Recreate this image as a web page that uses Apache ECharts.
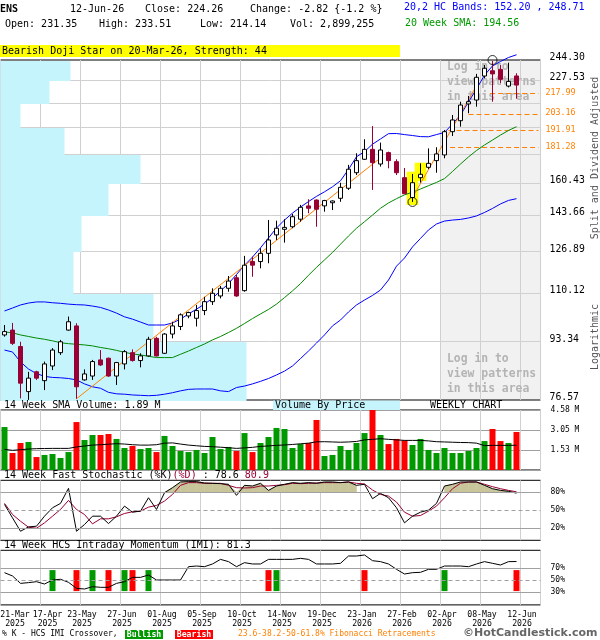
<!DOCTYPE html>
<html><head><meta charset="utf-8">
<script src="https://cdn.jsdelivr.net/npm/echarts@6/dist/echarts.min.js"></script>
<style>html,body{margin:0;padding:0;background:#fff}#c{width:600px;height:640px}</style>
</head><body><div id="c"></div>
<script>
const dates = ['21-Mar-2025','28-Mar-2025','04-Apr-2025','11-Apr-2025','17-Apr-2025','25-Apr-2025','02-May-2025','09-May-2025','16-May-2025','23-May-2025','30-May-2025','06-Jun-2025','13-Jun-2025','20-Jun-2025','27-Jun-2025','03-Jul-2025','11-Jul-2025','18-Jul-2025','25-Jul-2025','01-Aug-2025','08-Aug-2025','15-Aug-2025','22-Aug-2025','29-Aug-2025','05-Sep-2025','12-Sep-2025','19-Sep-2025','26-Sep-2025','03-Oct-2025','10-Oct-2025','17-Oct-2025','24-Oct-2025','31-Oct-2025','07-Nov-2025','14-Nov-2025','21-Nov-2025','28-Nov-2025','05-Dec-2025','12-Dec-2025','19-Dec-2025','26-Dec-2025','02-Jan-2026','09-Jan-2026','16-Jan-2026','23-Jan-2026','30-Jan-2026','06-Feb-2026','13-Feb-2026','20-Feb-2026','27-Feb-2026','06-Mar-2026','13-Mar-2026','20-Mar-2026','27-Mar-2026','02-Apr-2026','10-Apr-2026','17-Apr-2026','24-Apr-2026','01-May-2026','08-May-2026','15-May-2026','22-May-2026','29-May-2026','05-Jun-2026','12-Jun-2026'];

const opens = [95.6,97.2,91.9,78.8,84.3,81.8,86.0,90.0,97.2,98.6,
 82.0,83.1,87.8,88.3,83.1,86.6,90.0,87.6,89.0,94.5,
 89.8,95.9,98.4,102.0,101.2,103.9,107.1,109.2,112.1,116.2,
 111.2,122.8,122.8,126.3,134.5,137.1,138.3,141.9,148.5,151.5,
 148.5,150.1,152.4,157.7,166.3,174.1,180.1,171.3,178.1,172.7,
 163.5,152.8,163.5,169.4,173.3,176.7,191.3,198.6,210.3,213.1,
 231.3,235.5,236.6,223.5,231.35];
const closes = [96.7,92.9,81.1,82.5,82.5,86.6,90.8,93.4,100.0,80.1,
 83.7,87.3,86.3,83.1,87.0,90.3,87.6,89.0,94.2,89.0,
 95.9,98.6,102.4,103.2,103.9,107.1,110.2,112.1,114.9,109.2,
 121.3,121.3,126.3,132.2,137.6,138.0,143.1,147.8,147.3,146.8,
 151.2,151.0,158.2,168.3,173.3,180.1,172.1,179.7,173.3,166.3,
 154.8,160.7,165.4,171.7,177.3,191.3,199.1,209.5,211.9,230.3,
 237.5,233.0,228.7,227.08,224.26];
const highs = [98.9,99.6,93.4,84.3,84.6,87.3,91.4,94.0,101.8,99.5,
 85.0,87.8,90.8,88.5,87.2,90.8,91.0,89.8,95.0,95.0,
 96.2,100.0,102.9,103.5,105.9,108.9,112.1,113.0,116.9,117.3,
 125.2,124.9,128.5,141.5,141.2,141.9,144.5,149.0,151.9,151.8,
 151.6,151.3,160.7,170.8,177.7,186.4,195.0,184.3,178.7,174.1,
 169.0,165.6,171.7,180.7,181.4,192.4,202.5,211.9,216.1,233.0,
 240.2,243.5,240.2,242.1,233.51];
const lows = [95.05,92.4,77.0,76.6,82.0,79.2,84.8,89.3,97.0,76.9,
 81.8,82.0,86.0,82.9,80.6,85.0,87.3,85.6,88.8,88.8,
 89.6,94.5,97.2,101.2,98.4,102.3,105.9,108.3,110.8,108.9,
 110.8,116.6,120.0,122.1,132.2,131.0,137.6,140.7,144.8,138.3,
 145.6,146.4,150.6,156.8,165.0,173.7,156.8,169.8,168.8,165.0,
 154.6,150.5,160.8,168.4,166.3,174.7,188.5,194.6,203.7,208.3,
 229.5,211.9,225.6,222.5,214.14];

const upperBand = [103.75,104.8,105.9,106.6,107.0,107.0,106.7,106.5,106.2,106.0,
 105.9,105.5,105.0,104.1,103.0,101.7,100.9,99.9,98.9,98.9,
 98.9,99.6,100.9,102.7,104.4,106.2,108.4,111.1,113.9,117.5,
 121.3,124.7,128.7,133.1,137.7,141.5,144.9,147.9,150.7,153.4,
 155.8,158.5,161.8,168.2,175.6,178.7,183.3,186.6,190.0,190.1,
 189.4,188.8,188.1,188.0,189.4,190.8,196.4,202.5,211.7,221.3,
 232.0,239.4,243.05,246.4,248.71];
const lowerBand = [90.8,90.2,87.2,85.1,83.8,83.0,82.7,82.6,82.4,82.0,
 80.9,80.1,79.7,78.6,78.2,78.1,77.9,77.8,77.7,77.8,
 78.1,78.5,79.0,79.4,79.5,79.5,79.5,79.0,78.8,79.9,
 80.3,80.9,81.6,82.4,83.4,84.5,86.0,88.2,90.5,93.0,
 95.6,98.6,100.6,103.4,105.9,107.7,109.4,111.45,115.3,120.9,
 124.3,129.1,132.9,136.8,139.6,141.0,141.5,141.8,142.5,143.5,
 145.2,147.2,149.5,151.3,152.20];
const sma20 = [96.6,96.3,95.6,95.1,94.6,94.2,93.7,93.1,92.8,92.6,
 92.4,92.1,91.6,91.2,90.7,90.1,89.6,89.3,88.9,88.5,
 88.5,88.5,89.5,90.5,91.6,92.7,94.0,95.1,96.4,97.8,
 99.4,101.1,102.7,104.3,106.2,108.6,111.1,113.9,117.2,120.4,
 123.5,126.7,130.3,134.0,137.6,140.7,143.9,147.3,150.0,152.2,
 154.2,155.6,157.3,159.1,160.9,163.0,167.0,171.3,175.5,179.4,
 182.8,185.9,189.1,192.1,194.56];

// trend lines: [slot, price] endpoints
const trend1 = [[9, 76.9], [47, 174.9]];
const trend2 = [[51, 152.8], [59, 223.8]];
// Fibonacci retracement levels and the slot where each dashed line begins
const fibLevels = [217.99, 203.16, 191.91, 181.28];
const fibStart = [61.2, 58.5, 56.0, 56.2];
// price axis grid levels and labels
const priceTicks = [76.57, 93.34, 110.12, 126.89, 143.66, 160.43, 177.22, 193.99, 210.76, 227.53, 244.30];
const priceLabels = [244.30, 227.53, 160.43, 143.66, 126.89, 110.12, 93.34, 76.57];
// volume by price (relative volume per price band, bottom band first)
const vbpVolume = [24.6, 15.3, 7.3, 8.1, 10.8, 14.0, 6.4, 2.0, 4.9, 7.0];
// pattern highlights [slot, top, bottom] and circle markers [slot, price]
const patternBoxes = [[51, 166.9, 148.9], [52, 172.1, 161.7]];
const circleMarks = [[51, 150.5], [61, 244.3]];
const loginAreaStart = 55;

const volume = [3.28,1.30,2.06,2.14,0.99,1.15,1.22,0.92,1.37,3.66,
 2.29,2.67,2.67,2.75,2.37,1.68,1.83,1.60,1.68,1.37,
 2.60,1.83,1.45,1.37,1.53,1.30,2.52,1.60,1.76,1.45,
 2.82,1.37,2.06,2.52,3.21,3.13,1.68,1.98,2.06,3.82,
 1.07,1.15,1.83,1.53,2.06,2.82,4.58,2.67,1.98,2.37,
 2.26,1.91,2.37,1.53,1.30,1.68,1.30,1.30,1.45,1.68,
 2.21,3.13,2.21,2.06,2.90];
const volSma = [1.58,1.50,1.55,1.60,1.63,1.64,1.65,1.65,1.65,1.76,
 1.83,1.90,1.93,1.97,2.01,1.98,1.93,1.90,1.90,1.93,
 2.05,2.07,1.98,1.90,1.85,1.80,1.78,1.74,1.70,1.65,
 1.69,1.73,1.80,1.84,1.88,1.91,1.95,2.00,2.05,2.15,
 2.16,2.14,2.12,2.14,2.18,2.30,2.34,2.39,2.34,2.30,
 2.26,2.26,2.26,2.22,2.16,2.14,2.12,2.10,2.09,2.05,
 1.86,1.88,1.88,1.88,1.89];

const stochK = [59.8,37.4,15.1,22.3,23.5,40.2,54.2,61.5,86.6,15.1,
 26.3,40.2,40.2,27.9,40.2,57.0,46.9,48.6,70.9,51.4,
 79.3,87.7,97.2,97.8,97.8,95.5,95.0,94.4,93.3,74.9,
 91.6,90.5,95.0,83.2,90.5,93.3,96.1,95.0,96.1,95.0,
 97.2,97.2,96.1,97.2,91.6,93.3,69.3,78.2,70.9,54.2,
 29.1,40.2,46.9,50.3,61.5,90.5,93.3,97.2,97.2,97.2,
 91.6,86.0,83.2,81.6,78.6];
const stochD = [61.5,43.0,31.8,21.8,20.1,29.1,40.2,51.4,66.5,51.4,
 43.0,27.4,35.8,35.8,39.1,44.7,47.5,48.6,55.3,58.1,
 65.4,76.5,91.6,96.1,96.1,95.0,95.0,95.0,91.6,87.7,
 87.2,87.7,90.5,90.5,91.6,92.7,95.0,94.4,95.0,95.5,
 96.1,96.1,96.1,97.2,95.0,93.9,83.8,76.5,73.7,63.7,
 46.9,40.2,41.3,48.6,57.0,70.9,86.0,95.0,97.2,97.2,
 93.3,89.4,86.0,83.2,80.9];
const stochFillRanges = [[20, 44], [55, 64]];

const imi = [62.7,57.2,44.9,46.1,47.7,43.8,50.5,51.7,46.6,36.6,
 35.5,39.4,38.3,38.3,44.9,47.7,54.9,54.9,58.8,50.5,
 50.5,50.5,50.5,72.7,73.8,72.7,77.2,84.9,81.1,72.7,
 79.4,77.2,77.2,84.9,84.9,84.9,84.9,86.6,84.9,77.2,
 77.2,77.2,78.3,90.5,90.5,92.2,82.7,81.1,77.2,68.3,
 60.5,62.7,63.3,68.3,68.3,73.8,73.8,73.8,72.7,77.2,
 81.1,78.3,75.5,81.1,81.3];
const imiBullish = [6, 11, 15, 18, 34, 55];
const imiBearish = [9, 13, 16, 33, 45, 64];

// ---------------------------------------------------------------
const MONO = '"DejaVu Sans Mono", monospace';
const fnt = (sz, bold) => (bold ? 'bold ' : '') + sz + 'px ' + MONO;
const slotX = i => i + 0.5;
const xs = dates.map((d, i) => slotX(i));
const pair = arr => arr.map((v, i) => [xs[i], v]);
const MAROON = '#990033', ORANGE = '#ff8000', GREEN = '#009900', RED = '#ff0000';

function gridDef(top, height) {
  return {left: 0.5, top, width: 540, height, show: true, borderColor: '#000', borderWidth: 1,
          backgroundColor: 'transparent', containLabel: false, outerBoundsMode: 'none'};
}
function xDef(gi, extra) {
  return Object.assign({type: 'value', gridIndex: gi, min: 0, max: 67.5, interval: 5,
    axisLine: {show: false}, axisTick: {show: false}, axisLabel: {show: false},
    splitLine: {show: true, lineStyle: {color: '#d0d0d0', width: 1}}}, extra || {});
}
const labFont = {fontFamily: MONO, fontSize: 8.2, lineHeight: 8.7, color: '#000'};

const series = [];
// grey "log in" area
series.push({type: 'custom', xAxisIndex: 0, yAxisIndex: 0, z: -1, silent: true, clip: false,
  data: [[loginAreaStart, 100]],
  renderItem(params, api) {
    const cs = params.coordSys;
    const x0 = Math.floor(api.coord([api.value(0), api.value(1)])[0]) + 0.5;
    return {type: 'group', children: [
      {type: 'rect', shape: {x: x0, y: cs.y, width: cs.x + cs.width - x0, height: cs.height}, style: {fill: '#f1f1f1'}},
      {type: 'line', shape: {x1: x0, y1: cs.y, x2: x0, y2: cs.y + cs.height}, style: {stroke: '#a8a8a8', lineWidth: 1}}
    ]};
  }});
// horizontal price grid
series.push({type: 'custom', xAxisIndex: 0, yAxisIndex: 0, z: 0.5, silent: true, clip: false,
  data: priceTicks.slice(1, -1).map(v => [0, v]),
  renderItem(params, api) {
    const cs = params.coordSys;
    const y = Math.floor(api.coord([0, api.value(1)])[1]) + 0.5;
    return {type: 'line', shape: {x1: cs.x, y1: y, x2: cs.x + cs.width, y2: y}, style: {stroke: '#d0d0d0', lineWidth: 1}};
  }});
// volume by price
series.push({type: 'custom', xAxisIndex: 4, yAxisIndex: 0, z: 1, silent: true, clip: false,
  data: vbpVolume.map((v, i) => [v, priceTicks[i], priceTicks[i + 1]]),
  renderItem(params, api) {
    const p0 = api.coord([0, api.value(1)]);
    const p1 = api.coord([api.value(0), api.value(2)]);
    const yTop = Math.floor(p1[1]) + 1, yBot = Math.floor(p0[1]) + 1;
    return {type: 'rect', shape: {x: p0[0], y: yTop, width: p1[0] - p0[0], height: yBot - yTop}, style: {fill: '#c6f4fc'}};
  }});
// pattern highlight boxes
series.push({type: 'custom', xAxisIndex: 0, yAxisIndex: 0, z: 1.6, silent: true, clip: false,
  data: patternBoxes.map(b => [slotX(b[0]), b[1], b[2]]),
  renderItem(params, api) {
    const a = api.coord([api.value(0), api.value(1)]);
    const b = api.coord([api.value(0), api.value(2)]);
    const w = api.size([1, 0])[0] * 1.45;
    return {type: 'rect', shape: {x: a[0] - w / 2, y: a[1], width: w, height: b[1] - a[1]}, style: {fill: '#ffff00'}};
  }});
// bands & SMA
const lineS = (data, color, z) => ({type: 'line', xAxisIndex: 0, yAxisIndex: 0, data, showSymbol: false, symbol: 'none', clip: false,
  z: z || 2, silent: true, lineStyle: {color, width: 1}});
series.push(lineS(pair(upperBand), '#0000ff'));
series.push(lineS(pair(lowerBand), '#0000ff'));
series.push(lineS(pair(sma20), '#008800'));
series.push(lineS(trend1.map(p => [slotX(p[0]), p[1]]), ORANGE));
series.push(lineS(trend2.map(p => [slotX(p[0]), p[1]]), ORANGE));
// fib dashed lines
series.push({type: 'custom', xAxisIndex: 0, yAxisIndex: 0, z: 2, silent: true, clip: false,
  data: fibLevels.map((v, i) => [fibStart[i], v]),
  renderItem(params, api) {
    const cs = params.coordSys;
    const p = api.coord([api.value(0), api.value(1)]);
    const y = Math.floor(p[1]) + 0.5;
    return {type: 'line', shape: {x1: p[0], y1: y, x2: cs.x + cs.width - 2, y2: y}, style: {stroke: ORANGE, lineWidth: 1, lineDash: [5, 3]}};
  }});
// candles
series.push({type: 'candlestick', xAxisIndex: 0, yAxisIndex: 0, z: 3, silent: true, barWidth: 5,
  data: dates.map((d, i) => [xs[i], opens[i], closes[i], lows[i], highs[i]]),
  itemStyle: {color: '#ffffff', color0: MAROON, borderColor: '#000000', borderColor0: MAROON, borderWidth: 1}});
// circles
series.push({type: 'scatter', xAxisIndex: 0, yAxisIndex: 0, z: 4, silent: true, clip: false, symbol: 'circle', symbolSize: 9,
  data: circleMarks.map(c => [slotX(c[0]), c[1]]),
  itemStyle: {color: 'rgba(0,0,0,0)', borderColor: '#000', borderWidth: 1}});
// price axis labels
series.push({type: 'custom', xAxisIndex: 0, yAxisIndex: 0, z: 5, silent: true, clip: false,
  data: priceLabels.map(v => [0, v, 0]).concat(fibLevels.map(v => [0, v, 1])),
  renderItem(params, api) {
    const cs = params.coordSys;
    const fib = api.value(2) === 1;
    const v = api.value(1);
    const y = api.coord([0, v])[1];
    return {type: 'text', x: cs.x + cs.width + (fib ? 5 : 9), y: y - (fib ? 1 : 3),
      style: {text: v.toFixed(2), fill: fib ? ORANGE : '#000', font: fib ? fnt(8.3) : fnt(9.8),
        textAlign: 'left', align: 'left', textVerticalAlign: 'middle', verticalAlign: 'middle'}};
  }});
// volume
series.push({type: 'bar', xAxisIndex: 1, yAxisIndex: 1, barWidth: 6, silent: true, z: 2,
  data: volume.map((v, i) => ({value: [xs[i], v], itemStyle: {color: closes[i] < opens[i] ? RED : GREEN}}))});
series.push({type: 'line', xAxisIndex: 1, yAxisIndex: 1, data: pair(volSma), showSymbol: false, symbol: 'none', silent: true, z: 3,
  lineStyle: {color: '#000', width: 1}});
// stochastic: shaded zone above the 80 line under %K
const hLines = (vals, dashed) => ({silent: true, symbol: ['none', 'none'], label: {show: false},
  lineStyle: {color: '#a0a0a0', width: 1, type: 'solid'},
  data: vals.map(v => ({yAxis: v, lineStyle: {type: v === dashed ? [4, 3] : 'solid', color: '#a0a0a0', width: 1}}))});
const fillSegs = [];
stochFillRanges.forEach(r => { for (let i = r[0]; i < r[1]; i++) fillSegs.push([xs[i], stochK[i], xs[i + 1], stochK[i + 1]]); });
series.push({type: 'custom', xAxisIndex: 2, yAxisIndex: 2, z: 1.5, silent: true,
  data: fillSegs,
  renderItem(params, api) {
    const lvl = 80;
    const a0 = api.coord([api.value(0), lvl]), a1 = api.coord([api.value(0), Math.max(lvl, api.value(1))]);
    const b0 = api.coord([api.value(2), lvl]), b1 = api.coord([api.value(2), Math.max(lvl, api.value(3))]);
    return {type: 'polygon', shape: {points: [a0, a1, b1, b0]}, style: {fill: '#c9c59a', stroke: '#c9c59a', lineWidth: 0.5}};
  }});
series.push({type: 'line', xAxisIndex: 2, yAxisIndex: 2, data: pair(stochD), showSymbol: false, symbol: 'none', silent: true, z: 3,
  lineStyle: {color: MAROON, width: 1}, markLine: hLines([20, 50, 80], 50)});
series.push({type: 'line', xAxisIndex: 2, yAxisIndex: 2, data: pair(stochK), showSymbol: false, symbol: 'none', silent: true, z: 3.1,
  lineStyle: {color: '#000', width: 1}});
// IMI
series.push({type: 'custom', xAxisIndex: 3, yAxisIndex: 3, z: 2, silent: true,
  data: imiBullish.map(i => [xs[i], 1]).concat(imiBearish.map(i => [xs[i], 0])),
  renderItem(params, api) {
    const t = api.coord([api.value(0), 67]);
    const b = api.coord([api.value(0), 32]);
    return {type: 'rect', shape: {x: t[0] - 3, y: t[1], width: 6, height: b[1] - t[1]},
      style: {fill: api.value(1) === 1 ? GREEN : RED}};
  }});
series.push({type: 'line', xAxisIndex: 3, yAxisIndex: 3, data: pair(imi), showSymbol: false, symbol: 'none', silent: true, z: 3,
  lineStyle: {color: '#000', width: 1}, markLine: hLines([30, 50, 70], 50)});

// ---------------------------------------------------------------
const G = [];
function txt(x, y, text, style, z) {
  G.push({type: 'text', x, y, z: z == null ? 10 : z, silent: true,
    style: Object.assign({text, fill: '#000', font: fnt(10), textAlign: 'left', align: 'left',
      textVerticalAlign: 'middle', verticalAlign: 'middle'}, style || {})});
}
function box(x, y, w, h, fill, z) {
  G.push({type: 'rect', z: z == null ? 9 : z, silent: true, shape: {x, y, width: w, height: h}, style: {fill}});
}
txt(0, 9, 'ENS', {font: fnt(10, true)});
txt(70, 9, '12-Jun-26');
txt(145, 9, 'Close: 224.26');
txt(250, 9, 'Change: -2.82 {-1.2 %}');
txt(404, 7, '20,2 HC Bands: 152.20 , 248.71', {fill: '#0000ff'});
txt(5, 24, 'Open: 231.35');
txt(99, 24, 'High: 233.51');
txt(200, 24, 'Low: 214.14');
txt(290, 24, 'Vol: 2,899,255');
txt(405, 23, '20 Week SMA: 194.56', {fill: GREEN});
box(0, 45, 400, 12, '#ffff00');
txt(2, 51.5, 'Bearish Doji Star on 20-Mar-26, Strength: 44');
['Log in to', 'view patterns', 'in this area'].forEach((s, k) => {
  txt(447, 67 + 15 * k, s, {fill: '#b4b4b4', font: fnt(11.4, true)}, 1.5);
  txt(447, 359 + 15 * k, s, {fill: '#b4b4b4', font: fnt(11.4, true)}, 1.5);
});
txt(4, 405, '14 Week SMA Volume: 1.89 M');
box(273, 400.5, 127, 9.5, '#c6f4fc');
txt(275, 405.5, 'Volume By Price');
txt(430, 405.5, 'WEEKLY CHART');
txt(4, 475.5, '{a|14 Week Fast Stochastic (%K)}{b|(%D)}{a| : 78.6 }{b|80.9}',
  {rich: {a: {fill: '#000', font: fnt(10)}, b: {fill: MAROON, font: fnt(10)}}});
txt(4, 545.5, '14 Week HCS Intraday Momentum (IMI): 81.3');
// first date label (drawn flush with the left edge)
const first = dates[0].split('-');
txt(15, 615.3, first[0] + '-' + first[1], {font: fnt(8.2), textAlign: 'center', align: 'center'});
txt(15, 624, first[2], {font: fnt(8.2), textAlign: 'center', align: 'center'});
txt(2, 634, '% K - HCS IMI Crossover,', {font: fnt(8)});
box(125, 630, 38, 9, GREEN);
txt(144, 634.5, 'Bullish', {fill: '#fff', font: fnt(8.2, true), textAlign: 'center', align: 'center'});
box(175, 630, 38, 9, RED);
txt(194, 634.5, 'Bearish', {fill: '#fff', font: fnt(8.2, true), textAlign: 'center', align: 'center'});
txt(238, 634, '23.6-38.2-50-61.8% Fibonacci Retracements', {fill: ORANGE, font: fnt(8)});
txt(463, 633.5, '\u00A9HotCandlestick.com', {fill: '#666', font: 'bold 11px "DejaVu Sans", sans-serif'});
G.push({type: 'text', x: 595, y: 158, rotation: Math.PI / 2, z: 10, silent: true,
  style: {text: 'Split and Dividend Adjusted', fill: '#555', font: fnt(10), textAlign: 'center', align: 'center', textVerticalAlign: 'middle', verticalAlign: 'middle'}});
G.push({type: 'text', x: 595, y: 337, rotation: Math.PI / 2, z: 10, silent: true,
  style: {text: 'Logarithmic', fill: '#555', font: fnt(10), textAlign: 'center', align: 'center', textVerticalAlign: 'middle', verticalAlign: 'middle'}});

const pctAxis = (gi, min, shown) => ({type: 'value', gridIndex: gi, min: min, max: 100, interval: 1, position: 'right',
  axisLine: {show: false}, axisTick: {show: false}, splitLine: {show: false},
  axisLabel: {show: true, margin: 10, fontFamily: MONO, fontSize: 8, color: '#000', hideOverlap: false,
    formatter: v => shown.indexOf(v) >= 0 ? v + '%' : ''}});

const option = {
  animation: false,
  backgroundColor: '#ffffff',
  textStyle: {fontFamily: MONO},
  grid: [gridDef(60, 340), gridDef(410, 60), gridDef(480.3, 60), gridDef(550.3, 54.6)],
  xAxis: [
    xDef(0), xDef(1), xDef(2),
    xDef(3, {axisLabel: {show: true, margin: 6, showMinLabel: true, showMaxLabel: false, hideOverlap: false, ...labFont,
      formatter: v => {
        if (v === 0 || v > 65 || v % 5 !== 0) return '';
        const p = dates[v - 1].split('-');
        const k = v === 5 ? 's' : 'n';
        return '{' + k + '|' + p[0] + '-' + p[1] + '}\n{' + k + '|' + p[2] + '}';
      },
      rich: {s: {...labFont, padding: [0, 0, 0, 14]}, n: {...labFont, padding: [0, 0, 0, 3]}}}}),
    {type: 'value', gridIndex: 0, min: 0, max: 54, show: false}
  ],
  yAxis: [
    {type: 'log', gridIndex: 0, min: 76.57, max: 244.30, logBase: 10, position: 'right',
      axisLine: {show: false}, axisTick: {show: false}, axisLabel: {show: false}, splitLine: {show: false}},
    {type: 'value', gridIndex: 1, min: 0, max: 4.58, interval: 4.58 / 3, position: 'right',
      axisLine: {show: false}, axisTick: {show: false},
      splitLine: {show: true, lineStyle: {color: '#a0a0a0', width: 1}},
      axisLabel: {show: true, margin: 10, fontFamily: MONO, fontSize: 8, color: '#000', showMinLabel: false, showMaxLabel: true,
        formatter: v => v < 0.01 ? '' : v.toFixed(2) + ' M'}},
    pctAxis(2, 0, [20, 50, 80]),
    pctAxis(3, 9, [30, 50, 70])
  ],
  series,
  graphic: {elements: G}
};
const chart = echarts.init(document.getElementById('c'), null, {renderer: 'canvas', width: 600, height: 640});
chart.setOption(option);
</script>
</body></html>
